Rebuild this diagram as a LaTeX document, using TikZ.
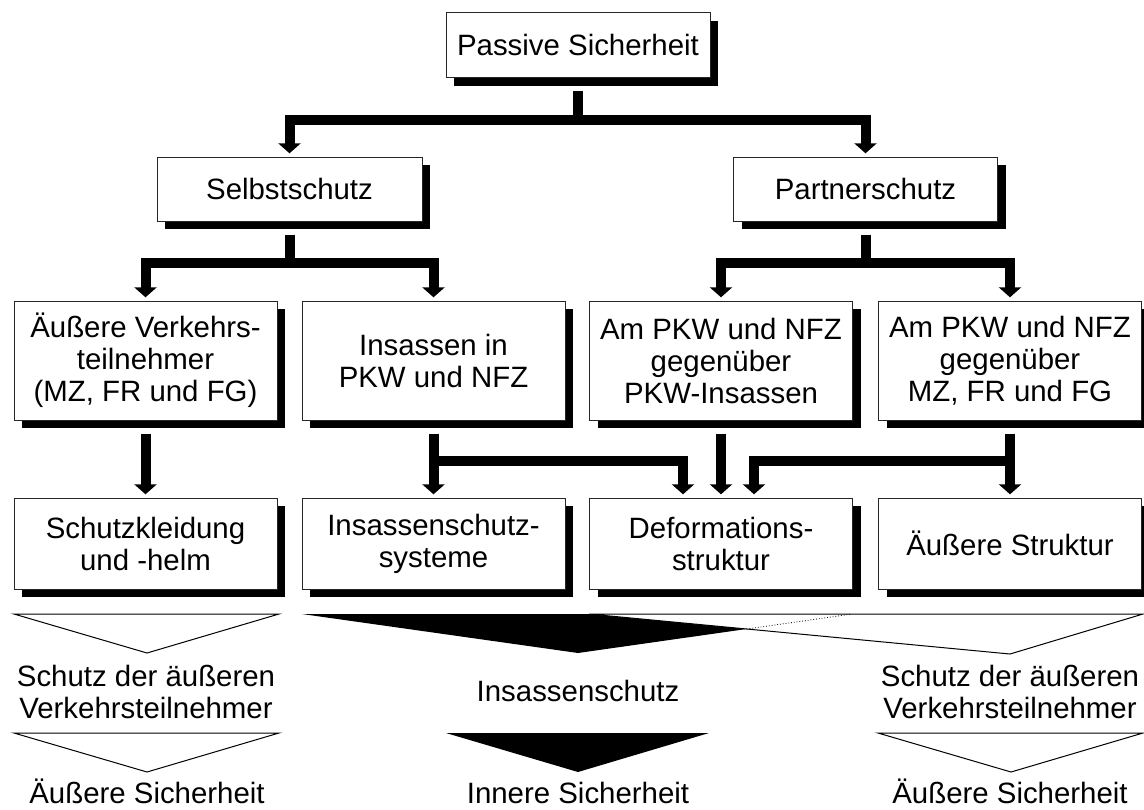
\documentclass[tikz,border=0pt]{standalone}
\usepackage{fontspec}
\setmainfont{Liberation Sans}
\usetikzlibrary{arrows.meta,shadows}
\tikzset{
	box/.style={draw=black!85, line width=0.5pt, fill=white, align=center, inner sep=0pt,
		general shadow={fill=black, shadow xshift=4pt, shadow yshift=-4pt},
		minimum width=131.5pt},
	conn/.style={line width=5pt, line join=miter, -{Triangle[width=11pt,length=5pt]},
		shorten <=6.5pt, shorten >=1.6pt},
	tri/.style={draw=black, line width=0.5pt, line join=miter}
}
\begin{document}
\begin{tikzpicture}[x=0.5pt, y=-0.5pt, font=\fontsize{14.7pt}{16pt}\selectfont]
	\useasboundingbox (0,0) rectangle (1144,809);
	\path (578,45) node[box, minimum width=132pt, minimum height=32.5pt] (P) {Passive Sicherheit}
	(289.5,189) node[box, minimum width=132.5pt, minimum height=32pt] (S) {Selbstschutz}
	(865.5,189) node[box, minimum width=132pt, minimum height=32pt] (T) {Partnerschutz}
	;
	\path (145.5,360.5) node[box, minimum height=59.5pt] (A) {Äußere Verkehrs-\\teilnehmer\\(MZ, FR und FG)}
	(433.5,360.5) node[box, minimum height=59.5pt] (B) {Insassen in\\PKW und NFZ}
	(721,360.5) node[box, minimum height=59.5pt] (C) {Am PKW und NFZ\\gegenüber\\PKW-Insassen}
	(1010,360.5) node[box, minimum height=59.5pt] (D) {Am PKW und NFZ\\gegenüber\\MZ, FR und FG}
	;
	\path (145.5,543.5) node[box, minimum height=45.5pt] (E) {Schutzkleidung\\und -helm}
	(433.5,543.5) node[box, minimum height=45.5pt] (F) {Insassenschutz-\\systeme}
	(721,543.5) node[box, minimum height=45.5pt] (G) {Deformations-\\struktur}
	(1010,543.5) node[box, minimum height=45.5pt] (H) {Äußere Struktur}
	;
	\coordinate (j1) at (578,120);
	\coordinate (j2) at (289.5,263);
	\coordinate (j3) at (865.5,263);
	\coordinate (j4) at (433.5,461);
	\coordinate (j5) at (1010,461);
	\draw[conn] (P.south) -- (j1) -| (S.north);
	\draw[conn] (P.south) -- (j1) -| (T.north);
	\draw[conn] (S.south) -- (j2) -| (A.north);
	\draw[conn] (S.south) -- (j2) -| (B.north);
	\draw[conn] (T.south) -- (j3) -| (C.north);
	\draw[conn] (T.south) -- (j3) -| (D.north);
	\draw[conn] (A.south) -- (E.north);
	\draw[conn] (B.south) -- (F.north);
	\draw[conn] (B.south) -- (j4) -| ([xshift=-19pt]G.north);
	\draw[conn] (C.south) -- (G.north);
	\draw[conn] (D.south) -- (H.north);
	\draw[conn] (D.south) -- (j5) -| ([xshift=16.5pt]G.north);
	% Keile
	\foreach \x/\y in {147/614, 147/733, 1011/733}
	\draw[tri, fill=white] (\x-133,\y) -- (\x+132,\y) -- (\x,\y+39) -- cycle;
	\fill[black] (302,614) -- (852,614) -- (578,653) -- cycle;
	\fill[black] (446,733) -- (709,733) -- (578,772) -- cycle;
	\draw[tri, fill=white] (589,614) -- (1143,614) -- (1010,654) -- cycle;
	\draw[densely dotted, line width=0.4pt] (intersection of 578,653--852,614 and 1010,654--589,614) -- (852,614);
	\path (146,692) node[align=center] (s1) {Schutz der äußeren\\Verkehrsteilnehmer}
	(1010,692) node[align=center] (s2) {Schutz der äußeren\\Verkehrsteilnehmer}
	(578,691) node (s3) {Insassenschutz}
	(147,803) node[anchor=base] (e1) {Äußere Sicherheit}
	(578,803) node[anchor=base] (e2) {Innere Sicherheit}
	(1010,803) node[anchor=base] (e3) {Äußere Sicherheit}
	;
\end{tikzpicture}
\end{document}
